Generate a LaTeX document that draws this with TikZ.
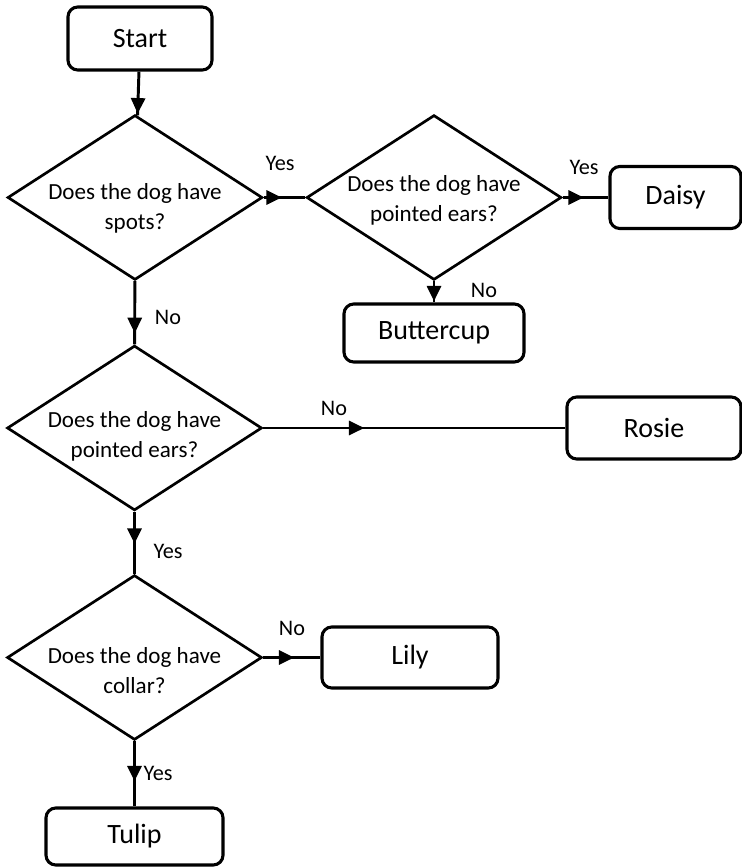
\documentclass[tikz,border=0pt]{standalone}
\usepackage{fontspec}
\setmainfont{Carlito}
\usetikzlibrary{shapes.geometric, decorations.markings, arrows.meta}
\tikzset{
  leaf/.style={draw, line width=2.2pt, rounded corners=7pt,
      font=\fontsize{19.9pt}{24pt}\selectfont},
  question/.style={draw, diamond, line width=1.9pt, inner sep=0pt,
      minimum width=6.37cm, minimum height=4.12cm},
  qtext/.style={align=center, font=\fontsize{16.4pt}{21.3pt}\selectfont},
  answer/.style={font=\fontsize{15.8pt}{19pt}\selectfont},
  flow/.style={line width=2.1pt, postaction={decorate},
      decoration={markings, mark=at position #1 with {\arrow{Triangle[length=11pt, width=10pt]}}}},
}
\begin{document}
\begin{tikzpicture}[x=0.025cm, y=-0.025cm]
  \useasboundingbox (0,0) rectangle (742,867);
  % left column
  \node[leaf, minimum width=3.6cm, minimum height=1.575cm] (start) at (140,38.5) {Start};
  \node[question, label={[qtext, yshift=-7.8pt]center:{Does the dog have\\spots?}}] (spots) at (135,197.5) {};
  \node[question, label={[qtext, yshift=-5.7pt]center:{Does the dog have\\pointed ears?}}] (ears) at (134.5,428) {};
  \node[question, label={[qtext, yshift=-9.2pt]center:{Does the dog have\\collar?}}] (collar) at (134.5,657.5) {};
  \node[leaf, minimum width=4.425cm, minimum height=1.425cm] (tulip) at (134.5,836.5) {Tulip};
  % upper branch
  \node[question, label={[qtext, yshift=-2pt]center:{Does the dog have\\pointed ears?}}] (spotears) at (434,197.5) {};
  \node[leaf, minimum width=3.275cm, minimum height=1.55cm] (daisy) at (675.5,197.5) {Daisy};
  \node[leaf, minimum width=4.5cm, minimum height=1.45cm] (buttercup) at (434,333) {Buttercup};
  % outcomes on the right
  \node[leaf, minimum width=4.35cm, minimum height=1.55cm] (rosie) at (654,428) {Rosie};
  \node[leaf, minimum width=4.4cm, minimum height=1.525cm] (lily) at (410,657.5) {Lily};
  % connectors
  \draw[flow=1.05cm] (start) -- (spots);
  \draw[flow=0.45cm] (spots) -- (spotears);
  \draw[flow=0.525cm] (spotears) -- (daisy);
  \draw[flow=0.5cm] (spotears) -- (buttercup);
  \draw[flow=1.3cm] (spots) -- (ears);
  \draw[flow=2.525cm] (ears) -- (rosie);
  \draw[flow=0.8cm] (ears) -- (collar);
  \draw[flow=0.775cm] (collar) -- (lily);
  \draw[flow=1.0cm] (collar) -- (tulip);
  % answers
  \node[answer] (yes1) at (280,163) {Yes};
  \node[answer] (yes2) at (584,167) {Yes};
  \node[answer] (no1) at (484,290) {No};
  \node[answer] (no2) at (168,317) {No};
  \node[answer] (no3) at (334,408) {No};
  \node[answer] (yes3) at (168,551) {Yes};
  \node[answer] (no4) at (292,628) {No};
  \node[answer] (yes4) at (158,773) {Yes};
\end{tikzpicture}
\end{document}
